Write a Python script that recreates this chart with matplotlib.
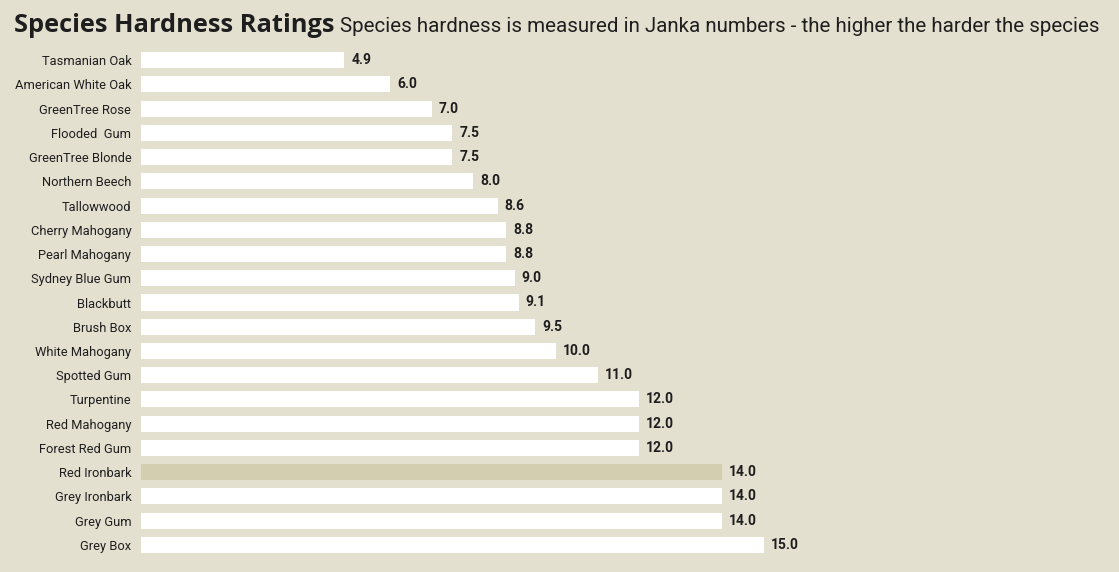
import matplotlib
matplotlib.use("Agg")
from matplotlib import pyplot as plt

species = ["Tasmanian Oak", "American White Oak", "GreenTree Rose", "Flooded  Gum",
           "GreenTree Blonde", "Northern Beech", "Tallowwood", "Cherry Mahogany",
           "Pearl Mahogany", "Sydney Blue Gum", "Blackbutt", "Brush Box",
           "White Mahogany", "Spotted Gum", "Turpentine", "Red Mahogany",
           "Forest Red Gum", "Red Ironbark", "Grey Ironbark", "Grey Gum", "Grey Box"]
hardness = [4.9, 6.0, 7.0, 7.5, 7.5, 8.0, 8.6, 8.8, 8.8, 9.0, 9.1, 9.5,
            10.0, 11.0, 12.0, 12.0, 12.0, 14.0, 14.0, 14.0, 15.0]
highlight = "Red Ironbark"

bg = "#e4e0d0"
bar_col = "#ffffff"
hl_col = "#d4ceb0"
txt = "#1e1e1e"

W, H = 1119, 572
fig = plt.figure(figsize=(W / 100, H / 100), dpi=100)
fig.patch.set_facecolor(bg)

left_px, right_px = 141, 1110
top_px, bot_px = 47.9, 557.1
ax = fig.add_axes([left_px / W, 1 - bot_px / H, (right_px - left_px) / W, (bot_px - top_px) / H])
ax.set_facecolor(bg)
px_per_unit = 41.5
ax.set_xlim(0, (right_px - left_px) / px_per_unit)
ax.set_ylim(len(species) - 0.5, -0.5)

ypos = list(range(len(species)))
colors = [hl_col if s == highlight else bar_col for s in species]
ax.barh(ypos, hardness, height=0.66, color=colors, edgecolor="none")

for y, v in zip(ypos, hardness):
    ax.annotate(f"{v:.1f}", (v, y), xytext=(5, 0), textcoords="offset points",
                va="center", ha="left", fontsize=10, fontweight="bold",
                color=txt, family="Roboto")

ax.set_yticks(ypos)
ax.set_yticklabels(species, family="Roboto", fontsize=9.3, color=txt)
ax.tick_params(axis="y", length=0, pad=7)
ax.set_xticks([])
for sp in ax.spines.values():
    sp.set_visible(False)

t1 = fig.text(14 / W, 1 - 32 / H, "Species Hardness Ratings", fontsize=18.3,
              fontweight="bold", family="Open Sans", color=txt, va="baseline")
fig.canvas.draw()
bb = t1.get_window_extent()
fig.text((bb.x1 + 5) / W, 1 - 32 / H,
         "Species hardness is measured in Janka numbers - the higher the harder the species",
         fontsize=14.8, family="Roboto", color=txt, va="baseline")

fig.savefig("out.png", dpi=100, facecolor=bg)
